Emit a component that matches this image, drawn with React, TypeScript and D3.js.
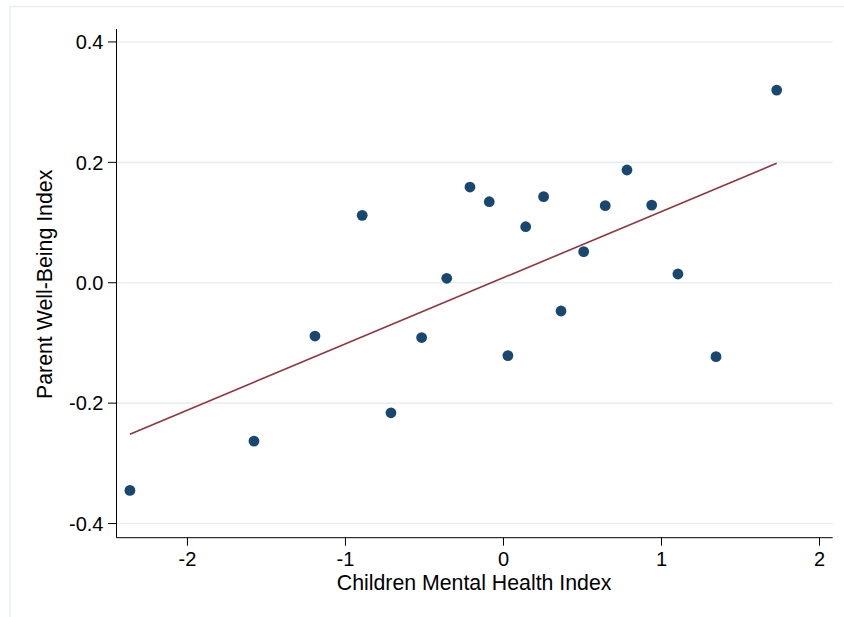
import React from "react";
import * as d3 from "d3";

const childrenIndex: number[] = [
  -2.364, -1.579, -1.193, -0.894, -0.712, -0.518, -0.359, -0.212, -0.09, 0.028,
  0.1405, 0.254, 0.364, 0.5076, 0.644, 0.7816, 0.938, 1.104, 1.345, 1.729,
];
const parentIndex: number[] = [
  -0.345, -0.263, -0.0885, 0.112, -0.216, -0.091, 0.0074, 0.159, 0.1346, -0.121,
  0.0931, 0.143, -0.0469, 0.0516, 0.128, 0.1873, 0.129, 0.0145, -0.1228, 0.32,
];
// fitted line values at min and max of childrenIndex
const fitValues: number[] = [-0.2515, 0.1984];
const xTickValues: number[] = [-2, -1, 0, 1, 2];
const xTickLabels: string[] = ["-2", "-1", "0", "1", "2"];
const yTickValues: number[] = [0.4, 0.2, 0, -0.2, -0.4];
const yTickLabels: string[] = ["0.4", "0.2", "0.0", "-0.2", "-0.4"];
const xTitle = "Children Mental Health Index";
const yTitle = "Parent Well-Being Index";

const W = 844;
const H = 617;
const left = 116.5;
const right = 832.7;
const top = 29;
const bottom = 537.7;

const FONT = "'Liberation Sans', Arial, Helvetica, sans-serif";

export default function App() {
  const x = d3.scaleLinear().domain([-2.449, 2.0835]).range([left, right]);
  const y = d3.scaleLinear().domain([-0.4235, 0.4215]).range([bottom, top]);

  const [xmin, xmax] = d3.extent(childrenIndex) as [number, number];
  const fitPts: [number, number][] = [
    [xmin, fitValues[0]],
    [xmax, fitValues[1]],
  ];
  const line = d3
    .line<[number, number]>()
    .x((d) => x(d[0]))
    .y((d) => y(d[1]));

  return (
    <svg
      width={W}
      height={H}
      style={{ position: "absolute", left: 0, top: 0, background: "#fff" }}
      fontFamily={FONT}
    >
      {/* outer graph border (cropped) */}
      <path d={`M10,${H} L10,6.5 L${W},6.5`} fill="none" stroke="#e9f0f2" strokeWidth={1.5} />

      {/* gridlines */}
      {yTickValues.map((v) => (
        <line key={"g" + v} x1={left} x2={right} y1={y(v)} y2={y(v)} stroke="#e8eff2" strokeWidth={1.6} />
      ))}

      {/* fit line */}
      <path d={line(fitPts) || ""} fill="none" stroke="#90353b" strokeWidth={1.6} />

      {/* points */}
      {childrenIndex.map((cx, i) => (
        <circle key={"p" + i} cx={x(cx)} cy={y(parentIndex[i])} r={5.4} fill="#1a476f" />
      ))}

      {/* y axis */}
      <line x1={left} x2={left} y1={top} y2={bottom} stroke="#000" strokeWidth={1} />
      {yTickValues.map((v, i) => (
        <g key={"yt" + v}>
          <line x1={left - 8.5} x2={left} y1={y(v)} y2={y(v)} stroke="#000" strokeWidth={1} />
          <text x={left - 13} y={y(v)} dy="0.36em" textAnchor="end" fontSize={20} fill="#000">
            {yTickLabels[i]}
          </text>
        </g>
      ))}

      {/* x axis */}
      <line x1={left} x2={right} y1={bottom} y2={bottom} stroke="#000" strokeWidth={1} />
      {xTickValues.map((v, i) => (
        <g key={"xt" + v}>
          <line x1={x(v)} x2={x(v)} y1={bottom} y2={bottom + 8} stroke="#000" strokeWidth={1} />
          <text x={x(v)} y={bottom + 28} textAnchor="middle" fontSize={20} fill="#000">
            {xTickLabels[i]}
          </text>
        </g>
      ))}

      {/* titles */}
      <text x={(left + right) / 2 - 0.5} y={590} textAnchor="middle" fontSize={21.3} fill="#000">
        {xTitle}
      </text>
      <text
        transform={`translate(52, ${(top + bottom) / 2 + 1}) rotate(-90)`}
        textAnchor="middle"
        fontSize={21.3}
        fill="#000"
      >
        {yTitle}
      </text>
    </svg>
  );
}
